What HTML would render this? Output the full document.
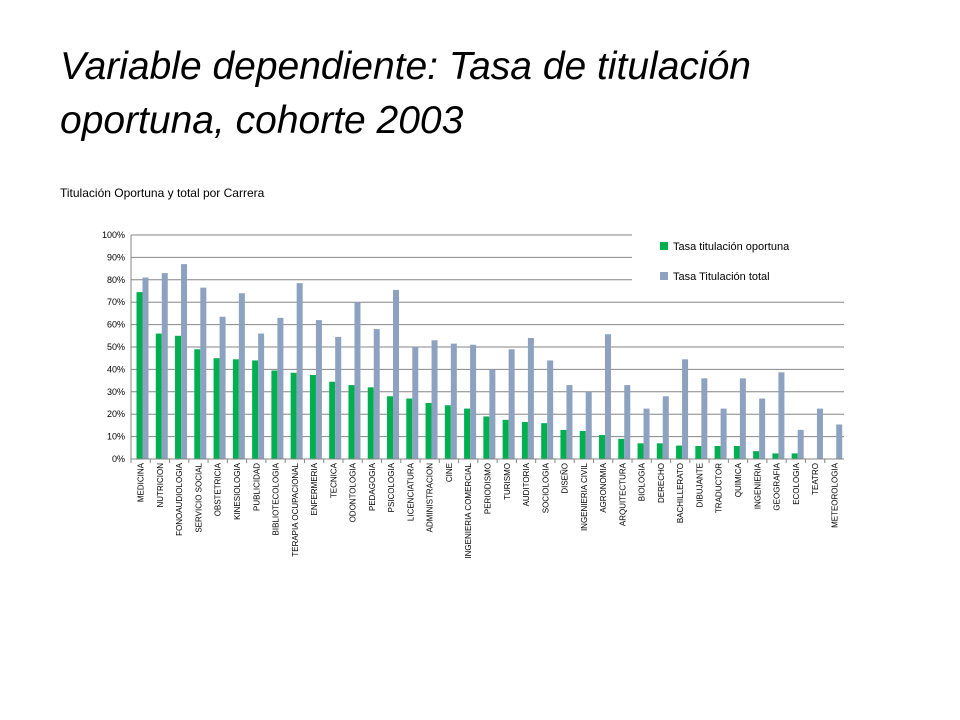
<!DOCTYPE html>
<html><head><meta charset="utf-8"><style>
body{margin:0;background:#fff;width:960px;height:720px;overflow:hidden;font-family:"Liberation Sans",sans-serif}
#title{position:absolute;left:60px;top:40px;font-size:39px;font-style:italic;line-height:54px;color:#000;margin:0;font-weight:normal;font-family:"Liberation Sans",sans-serif;white-space:nowrap}
#sub{position:absolute;left:60px;top:186px;font-size:12px;color:#000}
svg{position:absolute;left:0;top:0}
</style></head><body>
<h1 id="title">Variable dependiente: Tasa de titulación<br>oportuna, cohorte 2003</h1>
<div id="sub">Titulación Oportuna y total por Carrera</div>
<svg id="chart" width="960" height="720"></svg>
<script>
const categories=["MEDICINA","NUTRICION","FONOAUDIOLOGIA","SERVICIO SOCIAL","OBSTETRICIA","KINESIOLOGIA","PUBLICIDAD","BIBLIOTECOLOGIA","TERAPIA OCUPACIONAL","ENFERMERIA","TECNICA","ODONTOLOGIA","PEDAGOGIA","PSICOLOGIA","LICENCIATURA","ADMINISTRACION","CINE","INGENIERIA COMERCIAL","PERIODISMO","TURISMO","AUDITORIA","SOCIOLOGIA","DISEÑO","INGENIERIA CIVIL","AGRONOMIA","ARQUITECTURA","BIOLOGIA","DERECHO","BACHILLERATO","DIBUJANTE","TRADUCTOR","QUIMICA","INGENIERIA","GEOGRAFIA","ECOLOGIA","TEATRO","METEOROLOGIA"];
const oportuna=[74.5,56,55,49,45,44.5,44,39.5,38.5,37.5,34.5,33,32,28,27,25,24,22.5,19,17.5,16.5,16,13,12.5,10.7,9,7,7,6,5.8,5.8,5.8,3.5,2.5,2.5,0,0];
const total=[81,83,87,76.5,63.5,74,56,63,78.5,62,54.5,70,58,75.5,50,53,51.5,51,40,49,54,44,33,30,55.7,33,22.5,28,44.5,36,22.5,36,27,38.7,13,22.5,15.4];
const ticks=[0,10,20,30,40,50,60,70,80,90,100];
const seriesNames=["Tasa titulación oportuna","Tasa Titulación total"];
const NS="http://www.w3.org/2000/svg";
const svg=document.getElementById('chart');
const L=131,R=844,T=235,B=459;
const n=categories.length,cw=(R-L)/n;
const y=v=>B-(v/100)*(B-T);
const x=i=>L+i*cw;
function mk(t,a){const e=document.createElementNS(NS,t);for(const k in a)e.setAttribute(k,a[k]);svg.appendChild(e);return e;}
ticks.forEach(t=>{
 const g=mk('line',{x1:L,x2:(t>=80?632:R),y1:y(t),y2:y(t),stroke:'#868686','stroke-width':1});
 
 
 const tx=mk('text',{x:L-6,y:y(t)+3,'text-anchor':'end','font-size':9,fill:'#000'});
 tx.textContent=t+'%';
 
 
});
const ax=mk('line',{x1:L,x2:L,y1:T,y2:B,stroke:'#868686'});


categories.forEach((c,i)=>{
 const b1=mk('rect',{x:x(i)+5.5,y:y(oportuna[i]),width:6,height:B-y(oportuna[i]),fill:'#00b050'});
 
 
 const b2=mk('rect',{x:x(i)+11.5,y:y(total[i]),width:6,height:B-y(total[i]),fill:'#8da2c0'});
 
 
 const tk=mk('line',{x1:x(i),x2:x(i),y1:B,y2:B+4,stroke:'#868686'});
 
 
 const cx=x(i)+cw/2+3;
 const lb=mk('text',{x:cx,y:463,'text-anchor':'end','font-size':8,fill:'#000',transform:`rotate(-90 ${cx} 463)`});
 lb.textContent=c;
 
 
});
const bl=mk('line',{x1:L,x2:R,y1:B,y2:B,stroke:'#868686'});


[['#00b050',246],['#8da2c0',276]].forEach((s,k)=>{
 const r=mk('rect',{x:660,y:s[1]-4,width:8,height:8,fill:s[0]});
 
 
 const t=mk('text',{x:673,y:s[1]+4,'font-size':11,fill:'#000'});
 t.textContent=seriesNames[k];
 
 
});
</script>
</body></html>
